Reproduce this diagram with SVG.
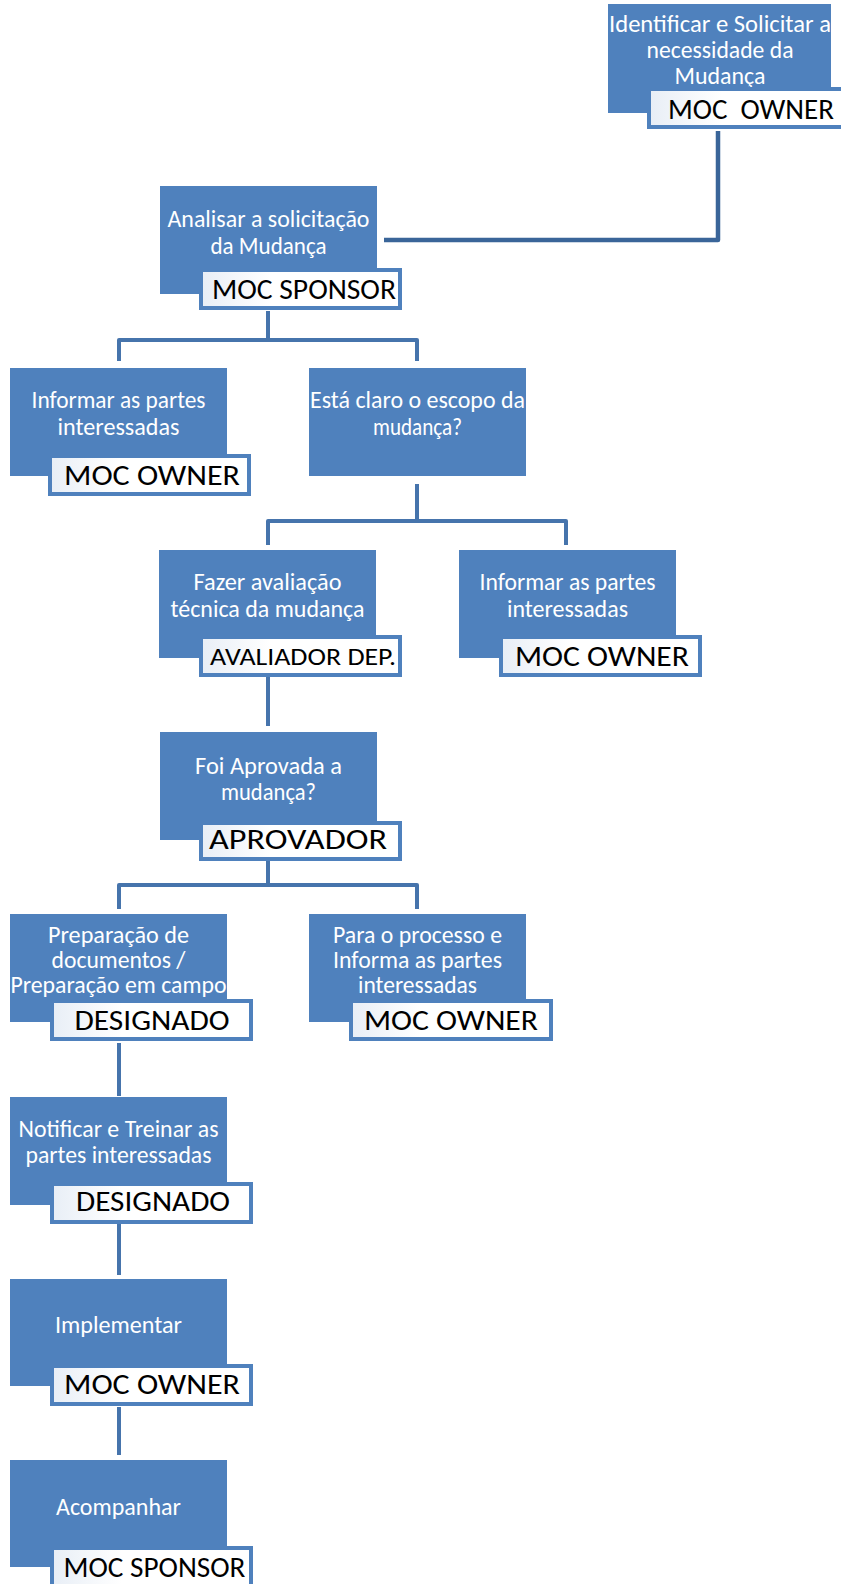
<svg xmlns="http://www.w3.org/2000/svg" width="841" height="1584" viewBox="0 0 841 1584">
<defs>
<style>
.box{fill:#4F81BD;}
.lbl{fill:url(#lg);stroke:#4F81BD;stroke-width:4;}
.t{font-family:Carlito,Lato,"Noto Sans",sans-serif;font-size:23.5px;fill:#FFFFFF;text-anchor:middle;}
.lt{font-family:Carlito,Lato,"Noto Sans",sans-serif;font-size:28px;fill:#000000;text-anchor:middle;}
.lts{font-family:Carlito,Lato,"Noto Sans",sans-serif;font-size:24px;fill:#000000;text-anchor:middle;}
.c{fill:none;stroke:#4674AC;stroke-width:4;stroke-linejoin:round;}
.c0{fill:none;stroke:#3A6599;stroke-width:4.5;stroke-linejoin:round;}
</style>
<linearGradient id="lg" x1="0" y1="0" x2="1" y2="0">
<stop offset="0" stop-color="#E8EEF6"/>
<stop offset="0.35" stop-color="#FFFFFF"/>
<stop offset="1" stop-color="#FFFFFF"/>
</linearGradient>
</defs>
<rect width="841" height="1584" fill="#FFFFFF"/>
<g id="connectors">
<path class="c0" d="M718,131 V240 H384"/>
<path class="c" d="M268,311 V340 M119,361 V340 H417 V361"/>
<path class="c" d="M417,484 V521 M268,545 V521 H566 V545"/>
<path class="c" d="M268,677 V726"/>
<path class="c" d="M268,861 V885 M119,909 V885 H417 V909"/>
<path class="c" d="M119,1043 V1096"/>
<path class="c" d="M119,1224 V1275"/>
<path class="c" d="M119,1407 V1455"/>
</g>
<g id="n1">
<rect class="box" x="608" y="4" width="223" height="109"/>
<text class="t" x="720" y="31.5" textLength="222" lengthAdjust="spacingAndGlyphs">Identificar e Solicitar a</text>
<text class="t" x="720" y="58" textLength="147" lengthAdjust="spacingAndGlyphs">necessidade da</text>
<text class="t" x="720" y="83.5" textLength="91" lengthAdjust="spacingAndGlyphs">Mudança</text>
<rect class="lbl" x="649" y="89" width="210" height="38"/>
<text class="lt" x="751" y="119" textLength="166" lengthAdjust="spacingAndGlyphs">MOC&#160; OWNER</text>
</g>
<g id="n2">
<rect class="box" x="160" y="186" width="217" height="108"/>
<text class="t" x="268.5" y="227" textLength="202" lengthAdjust="spacingAndGlyphs">Analisar a solicitação</text>
<text class="t" x="268.5" y="254" textLength="116" lengthAdjust="spacingAndGlyphs">da Mudança</text>
<rect class="lbl" x="201" y="270" width="199" height="38"/>
<text class="lt" x="304" y="299" textLength="184" lengthAdjust="spacingAndGlyphs">MOC SPONSOR</text>
</g>
<g id="n3">
<rect class="box" x="10" y="368" width="217" height="108"/>
<text class="t" x="118.5" y="408" textLength="174" lengthAdjust="spacingAndGlyphs">Informar as partes</text>
<text class="t" x="118.5" y="435" textLength="122" lengthAdjust="spacingAndGlyphs">interessadas</text>
<rect class="lbl" x="50" y="456" width="199" height="38"/>
<text class="lt" x="152" y="485" textLength="176" lengthAdjust="spacingAndGlyphs">MOC OWNER</text>
</g>
<g id="n4">
<rect class="box" x="309" y="368" width="217" height="108"/>
<text class="t" x="417.5" y="408" textLength="215" lengthAdjust="spacingAndGlyphs">Está claro o escopo da</text>
<text class="t" x="417.5" y="435" textLength="89" lengthAdjust="spacingAndGlyphs">mudança?</text>
</g>
<g id="n5">
<rect class="box" x="159" y="550" width="217" height="108"/>
<text class="t" x="267.5" y="590" textLength="148" lengthAdjust="spacingAndGlyphs">Fazer avaliação</text>
<text class="t" x="267.5" y="617" textLength="194" lengthAdjust="spacingAndGlyphs">técnica da mudança</text>
<rect class="lbl" x="201" y="637" width="199" height="38"/>
<text class="lts" x="303" y="665" textLength="186" lengthAdjust="spacingAndGlyphs">AVALIADOR DEP.</text>
</g>
<g id="n6">
<rect class="box" x="459" y="550" width="217" height="108"/>
<text class="t" x="567.5" y="590" textLength="176" lengthAdjust="spacingAndGlyphs">Informar as partes</text>
<text class="t" x="567.5" y="617" textLength="121" lengthAdjust="spacingAndGlyphs">interessadas</text>
<rect class="lbl" x="501" y="637" width="199" height="38"/>
<text class="lt" x="602" y="666" textLength="174" lengthAdjust="spacingAndGlyphs">MOC OWNER</text>
</g>
<g id="n7">
<rect class="box" x="160" y="732" width="217" height="108"/>
<text class="t" x="268.5" y="774" textLength="147" lengthAdjust="spacingAndGlyphs">Foi Aprovada a</text>
<text class="t" x="268.5" y="800" textLength="95" lengthAdjust="spacingAndGlyphs">mudança?</text>
<rect class="lbl" x="201" y="823" width="199" height="36"/>
<text class="lt" x="298" y="849" textLength="178" lengthAdjust="spacingAndGlyphs">APROVADOR</text>
</g>
<g id="n8">
<rect class="box" x="10" y="914" width="217" height="108"/>
<text class="t" x="118.5" y="943" textLength="141" lengthAdjust="spacingAndGlyphs">Preparação de</text>
<text class="t" x="118.5" y="968" textLength="134" lengthAdjust="spacingAndGlyphs">documentos /</text>
<text class="t" x="118.5" y="993" textLength="216" lengthAdjust="spacingAndGlyphs">Preparação em campo</text>
<rect class="lbl" x="52" y="1001" width="199" height="38"/>
<text class="lt" x="152" y="1030" textLength="155" lengthAdjust="spacingAndGlyphs">DESIGNADO</text>
</g>
<g id="n9">
<rect class="box" x="309" y="914" width="217" height="108"/>
<text class="t" x="417.5" y="943" textLength="169" lengthAdjust="spacingAndGlyphs">Para o processo e</text>
<text class="t" x="417.5" y="968" textLength="169" lengthAdjust="spacingAndGlyphs">Informa as partes</text>
<text class="t" x="417.5" y="993" textLength="119" lengthAdjust="spacingAndGlyphs">interessadas</text>
<rect class="lbl" x="351" y="1001" width="200" height="38"/>
<text class="lt" x="451" y="1030" textLength="174" lengthAdjust="spacingAndGlyphs">MOC OWNER</text>
</g>
<g id="n10">
<rect class="box" x="10" y="1097" width="217" height="108"/>
<text class="t" x="118.5" y="1137" textLength="200" lengthAdjust="spacingAndGlyphs">Notificar e Treinar as</text>
<text class="t" x="118.5" y="1163" textLength="186" lengthAdjust="spacingAndGlyphs">partes interessadas</text>
<rect class="lbl" x="52" y="1184" width="199" height="38"/>
<text class="lt" x="153" y="1211" textLength="154" lengthAdjust="spacingAndGlyphs">DESIGNADO</text>
</g>
<g id="n11">
<rect class="box" x="10" y="1279" width="217" height="107"/>
<text class="t" x="118.5" y="1333" textLength="127" lengthAdjust="spacingAndGlyphs">Implementar</text>
<rect class="lbl" x="52" y="1366" width="199" height="38"/>
<text class="lt" x="152" y="1394" textLength="176" lengthAdjust="spacingAndGlyphs">MOC OWNER</text>
</g>
<g id="n12">
<rect class="box" x="10" y="1460" width="217" height="107"/>
<text class="t" x="118.5" y="1515" textLength="125" lengthAdjust="spacingAndGlyphs">Acompanhar</text>
<rect class="lbl" x="52" y="1548" width="199" height="38"/>
<text class="lt" x="154.5" y="1577" textLength="182" lengthAdjust="spacingAndGlyphs">MOC SPONSOR</text>
</g>
</svg>
